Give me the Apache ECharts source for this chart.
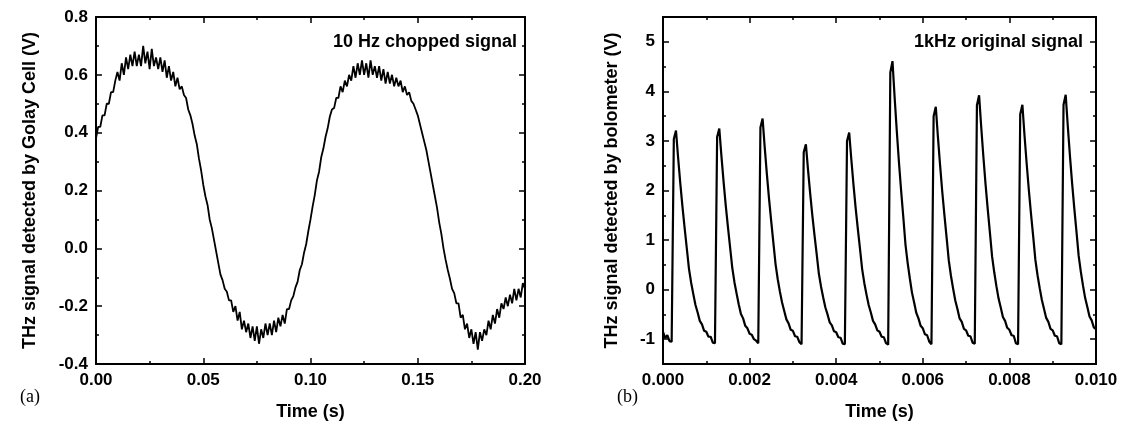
<!DOCTYPE html>
<html>
<head>
<meta charset="utf-8">
<script src="https://cdn.jsdelivr.net/npm/echarts@6/dist/echarts.min.js"></script>
<style>
  html, body { margin: 0; padding: 0; background: #fff; }
  #chart { width: 1122px; height: 426px; }
</style>
</head>
<body>
<div id="chart"></div>
<script>
// (a) Golay cell, 10 Hz chopped signal - one reading per ms, 0 .. 0.200 s
var golayStep = 0.001;
var golayVals = [
  0.38, 0.42, 0.42, 0.46, 0.46, 0.50, 0.50, 0.54, 0.54, 0.58,
  0.61, 0.58, 0.64, 0.60, 0.66, 0.62, 0.67, 0.63, 0.68, 0.63,
  0.67, 0.63, 0.70, 0.64, 0.68, 0.62, 0.69, 0.63, 0.66, 0.62,
  0.66, 0.61, 0.65, 0.59, 0.63, 0.58, 0.61, 0.56, 0.59, 0.55,
  0.56, 0.53, 0.52, 0.48, 0.46, 0.43, 0.39, 0.36, 0.31, 0.27,
  0.22, 0.18, 0.15, 0.10, 0.07, 0.03, -0.01, -0.05, -0.09, -0.11,
  -0.14, -0.15, -0.18, -0.18, -0.22, -0.20, -0.25, -0.22, -0.28, -0.25,
  -0.29, -0.26, -0.31, -0.27, -0.32, -0.27, -0.33, -0.28, -0.31, -0.26,
  -0.30, -0.26, -0.30, -0.25, -0.29, -0.24, -0.27, -0.23, -0.26, -0.21,
  -0.21, -0.18, -0.165, -0.135, -0.115, -0.075, -0.055, -0.015, 0.015, 0.06,
  0.10, 0.145, 0.185, 0.235, 0.265, 0.315, 0.345, 0.385, 0.415, 0.455,
  0.48, 0.485, 0.52, 0.52, 0.56, 0.54, 0.58, 0.56, 0.60, 0.58,
  0.63, 0.59, 0.64, 0.60, 0.65, 0.60, 0.64, 0.59, 0.65, 0.60,
  0.63, 0.59, 0.63, 0.58, 0.62, 0.57, 0.61, 0.57, 0.60, 0.56,
  0.59, 0.56, 0.58, 0.54, 0.56, 0.53, 0.54, 0.51, 0.50, 0.48,
  0.46, 0.43, 0.40, 0.37, 0.34, 0.30, 0.26, 0.22, 0.18, 0.14,
  0.09, 0.05, 0.00, -0.04, -0.075, -0.105, -0.14, -0.155, -0.19, -0.19,
  -0.24, -0.23, -0.28, -0.26, -0.31, -0.28, -0.33, -0.29, -0.35, -0.29,
  -0.32, -0.28, -0.30, -0.25, -0.28, -0.23, -0.26, -0.21, -0.24, -0.19,
  -0.21, -0.17, -0.20, -0.16, -0.19, -0.14, -0.18, -0.14, -0.17, -0.12,
  -0.14
];

// (b) bolometer, 1 kHz original signal - one reading per 50 us, 0 .. 0.010 s
var boloStep = 0.00005;
var boloVals = [
  -0.85, -0.98, -0.92, -1.04,
  -1.05, 3.04, 3.21, 2.65, 2.14, 1.67, 1.24, 0.83, 0.42, 0.14, -0.09, -0.31, -0.46, -0.63, -0.70, -0.83, -0.85, -0.95, -0.95, -1.07,
  -1.08, 3.08, 3.25, 2.69, 2.17, 1.69, 1.26, 0.85, 0.44, 0.15, -0.08, -0.30, -0.49, -0.58, -0.73, -0.78, -0.89, -0.91, -1.00, -1.03,
  -1.08, 3.27, 3.45, 2.86, 2.32, 1.82, 1.37, 0.94, 0.51, 0.21, -0.04, -0.26, -0.43, -0.60, -0.68, -0.81, -0.83, -0.94, -0.95, -1.06,
  -1.10, 2.77, 2.93, 2.41, 1.93, 1.49, 1.09, 0.71, 0.32, 0.06, -0.16, -0.36, -0.50, -0.66, -0.72, -0.84, -0.86, -0.96, -0.97, -1.09,
  -1.10, 3.00, 3.17, 2.62, 2.11, 1.64, 1.22, 0.82, 0.41, 0.13, -0.10, -0.31, -0.46, -0.63, -0.70, -0.82, -0.85, -0.95, -0.96, -1.08,
  -1.11, 4.38, 4.61, 3.87, 3.19, 2.56, 1.99, 1.46, 0.91, 0.54, 0.23, -0.06, -0.26, -0.47, -0.58, -0.73, -0.78, -0.90, -0.92, -1.05,
  -1.10, 3.50, 3.69, 3.07, 2.50, 1.97, 1.50, 1.05, 0.59, 0.28, 0.02, -0.22, -0.39, -0.58, -0.65, -0.79, -0.82, -0.93, -0.94, -1.07,
  -1.09, 3.72, 3.92, 3.27, 2.67, 2.12, 1.62, 1.15, 0.67, 0.35, 0.07, -0.18, -0.36, -0.55, -0.63, -0.77, -0.81, -0.92, -0.93, -1.08,
  -1.10, 3.54, 3.73, 3.10, 2.53, 2.00, 1.52, 1.07, 0.60, 0.29, 0.03, -0.21, -0.39, -0.57, -0.65, -0.79, -0.82, -0.93, -0.94, -1.08,
  -1.10, 3.73, 3.93, 3.28, 2.68, 2.13, 1.63, 1.16, 0.68, 0.36, 0.08, -0.17, -0.35, -0.54, -0.62, -0.76, -0.80
];
var boloMajor = [-1, 0, 1, 2, 3, 4, 5];
var boloMinor = [-0.5, 0.5, 1.5, 2.5, 3.5, 4.5];

var sans = '"Liberation Sans", Arial, sans-serif';

function toPairs(vals, step) {
  return vals.map(function (v, i) { return [+(i * step).toFixed(6), v]; });
}

var lineSt = { color: '#000', width: 2 };
var tickSt = { color: '#000', width: 1.5 };
var labelSt = { color: '#000', fontFamily: sans, fontWeight: 'bold', fontSize: 17 };
var nameSt = { color: '#000', fontFamily: sans, fontWeight: 'bold', fontSize: 18 };

// one framed axis; mirror = true for the unlabeled top/right copies
function axis(grid, pos, min, max, interval, digits, mirror, name, gap) {
  var a = {
    gridIndex: grid, type: 'value', position: pos,
    min: min, max: max, interval: interval,
    axisLine: { onZero: false, lineStyle: lineSt },
    axisTick: { inside: true, length: 6, lineStyle: tickSt },
    minorTick: { show: true, splitNumber: 2, length: 3, lineStyle: tickSt },
    splitLine: { show: false },
    axisLabel: {
      show: !mirror, margin: 8, ...labelSt,
      formatter: function (v) { return v.toFixed(digits); }
    }
  };
  if (!mirror && name) {
    a.name = name; a.nameLocation = 'middle'; a.nameGap = gap; a.nameTextStyle = nameSt;
  }
  return a;
}

// right panel y axis: labels on integers, half-ticks on a second overlaid axis
function boloY(pos, values, len, labelled) {
  var a = {
    gridIndex: 1, type: 'value', position: pos, min: -1.5, max: 5.5,
    axisLine: { onZero: false, lineStyle: lineSt },
    axisTick: { inside: true, length: len, lineStyle: tickSt, customValues: values },
    splitLine: { show: false },
    axisLabel: { show: labelled, margin: 8, ...labelSt, customValues: values }
  };
  if (labelled) {
    a.name = 'THz signal detected by bolometer (V)';
    a.nameLocation = 'middle'; a.nameGap = 42; a.nameTextStyle = nameSt;
  }
  return a;
}

var chart = echarts.init(document.getElementById('chart'));
chart.setOption({
  animation: false,
  backgroundColor: '#fff',
  grid: [
    { left: 96, top: 17, width: 429, height: 348 },
    { left: 663, top: 17, width: 433, height: 348 }
  ],
  xAxis: [
    axis(0, 'bottom', 0, 0.2, 0.05, 2, false, 'Time (s)', 39),
    axis(0, 'top', 0, 0.2, 0.05, 2, true),
    axis(1, 'bottom', 0, 0.01, 0.002, 3, false, 'Time (s)', 39),
    axis(1, 'top', 0, 0.01, 0.002, 3, true)
  ],
  yAxis: [
    axis(0, 'left', -0.4, 0.8, 0.2, 1, false, 'THz signal detected by Golay Cell (V)', 57),
    axis(0, 'right', -0.4, 0.8, 0.2, 1, true),
    boloY('left', boloMajor, 6, true),
    boloY('left', boloMinor, 3, false),
    boloY('right', boloMajor, 6, false),
    boloY('right', boloMinor, 3, false)
  ],
  series: [
    {
      type: 'line', xAxisIndex: 0, yAxisIndex: 0,
      data: toPairs(golayVals, golayStep),
      showSymbol: false, lineStyle: { color: '#000', width: 1.8 }
    },
    {
      type: 'line', xAxisIndex: 2, yAxisIndex: 2,
      data: toPairs(boloVals, boloStep),
      showSymbol: false, lineStyle: { color: '#000', width: 2.2 }
    }
  ],
  graphic: [
    { type: 'text', x: 517, y: 42, style: { text: '10 Hz chopped signal', fill: '#000', font: 'bold 18px ' + sans, align: 'right', verticalAlign: 'middle' } },
    { type: 'text', x: 1083, y: 42, style: { text: '1kHz original signal', fill: '#000', font: 'bold 18px ' + sans, align: 'right', verticalAlign: 'middle' } },
    { type: 'text', x: 20, y: 397, style: { text: '(a)', fill: '#000', font: '18px "Liberation Serif", serif', verticalAlign: 'middle' } },
    { type: 'text', x: 617, y: 397, style: { text: '(b)', fill: '#000', font: '18px "Liberation Serif", serif', verticalAlign: 'middle' } }
  ]
});
</script>
</body>
</html>
